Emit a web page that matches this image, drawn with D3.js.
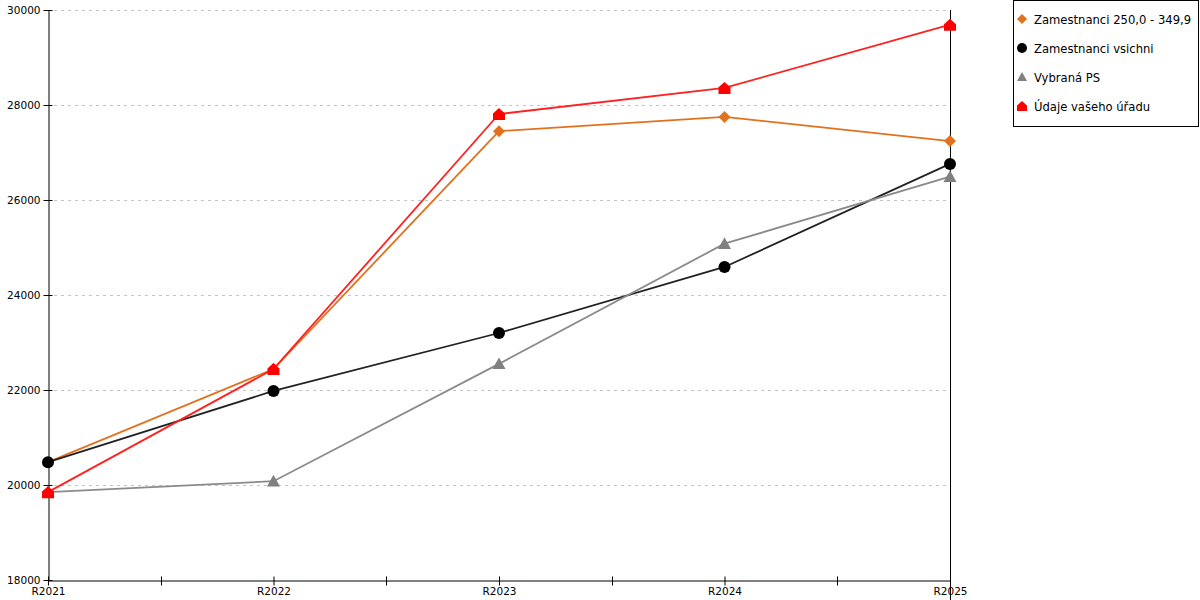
<!DOCTYPE html>
<html>
<head>
<meta charset="utf-8">
<script src="https://cdn.jsdelivr.net/npm/d3@7"></script>
<style>
  body { margin: 0; background: #fff; }
  text { font-family: "DejaVu Sans", sans-serif; }
</style>
</head>
<body>
<svg id="chart" width="1200" height="600"></svg>
<script>
var categories = ["R2021", "R2022", "R2023", "R2024", "R2025"]
var yTicks = [18000, 20000, 22000, 24000, 26000, 28000, 30000]

var orangeValues = [20480, 22440, 27450, 27750, 27240]
var blackValues = [20480, 21980, 23200, 24590, 26760]
var grayValues = [19850, 20080, 22550, 25080, 26490]
var redValues = [19850, 22440, 27810, 28360, 29690]

var seriesNames = ["Zamestnanci 250,0 - 349,9", "Zamestnanci vsichni", "Vybraná PS", "Údaje vašeho úřadu"]

var series = [
  { name: seriesNames[0], values: orangeValues, color: "#e2711d", marker: "diamond" },
  { name: seriesNames[1], values: blackValues, color: "#000000", line: "#222222", marker: "circle" },
  { name: seriesNames[2], values: grayValues, color: "#808080", line: "#8a8a8a", marker: "triangle" },
  { name: seriesNames[3], values: redValues, color: "#ff0000", line: "#ff2020", marker: "house" }
]

var svg = d3.select("#chart")
var plotLeft = 48, plotRight = 950, plotTop = 10, plotBottom = 580

var x = d3.scalePoint().domain(categories).range([plotLeft, plotRight])
var y = d3.scaleLinear().domain([18000, 30000]).range([plotBottom, plotTop])

// grid
svg.append("g").selectAll("line").data(yTicks.slice(1)).enter().append("line")
  .attr("x1", plotLeft + 6).attr("x2", plotRight - 2)
  .attr("y1", function(d) { return y(d) + 0.5 })
  .attr("y2", function(d) { return y(d) + 0.5 })
  .attr("stroke", "#c4c4c4")
  .attr("stroke-dasharray", "3,4")

// y axis
var yAxis = svg.append("g").attr("transform", "translate(" + (plotLeft + 0.5) + ",0)")
  .call(d3.axisLeft(y).tickValues(yTicks).tickSize(5).tickSizeOuter(0).tickFormat(d3.format("d")))
yAxis.selectAll(".tick line").attr("x1", -5).attr("x2", 4)
yAxis.selectAll(".tick text").attr("x", -8).attr("font-size", 10.5).attr("fill", "#000")
  .style("font-family", "DejaVu Sans")
yAxis.select(".domain").attr("stroke", "#000")

// x axis with midpoint ticks
var xAxis = svg.append("g").attr("transform", "translate(0," + (plotBottom + 0.5) + ")")
  .call(d3.axisBottom(x).tickSize(5).tickSizeOuter(0))
xAxis.selectAll(".tick line").attr("y1", -4).attr("y2", 5)
xAxis.selectAll(".tick text").attr("y", 7).attr("font-size", 10.5).attr("fill", "#000")
  .style("font-family", "DejaVu Sans")
xAxis.select(".domain").attr("stroke", "#000")
var mids = []
for (var i = 0; i < categories.length - 1; i++) {
  mids.push((x(categories[i]) + x(categories[i + 1])) / 2)
}
xAxis.selectAll(".mid").data(mids).enter().append("line")
  .attr("class", "mid")
  .attr("x1", function(d) { return Math.round(d) + 0.5 })
  .attr("x2", function(d) { return Math.round(d) + 0.5 })
  .attr("y1", -4).attr("y2", 5)
  .attr("stroke", "#000")

// right border line
svg.append("line")
  .attr("x1", plotRight + 0.5).attr("x2", plotRight + 0.5)
  .attr("y1", plotTop).attr("y2", plotBottom + 20)
  .attr("stroke", "#000")

function markerPath(type, s) {
  if (type == "diamond") {
    return "M0," + (-s) + "L" + s + ",0L0," + s + "L" + (-s) + ",0Z"
  } else if (type == "circle") {
    return d3.symbol().type(d3.symbolCircle).size(Math.PI * s * s)()
  } else if (type == "triangle") {
    return "M0," + (-s) + "L" + s + "," + (s * 0.8) + "L" + (-s) + "," + (s * 0.8) + "Z"
  } else {
    return "M0," + (-s) + "L" + s + "," + (-s * 0.1) + "L" + s + "," + s +
      "L" + (-s) + "," + s + "L" + (-s) + "," + (-s * 0.1) + "Z"
  }
}

var line = d3.line()
  .x(function(d, i) { return x(categories[i]) })
  .y(function(d) { return y(d) })

series.forEach(function(s) {
  svg.append("path")
    .datum(s.values)
    .attr("d", line)
    .attr("fill", "none")
    .attr("stroke", s.line || s.color)
    .attr("stroke-width", 1.8)
})

var sizes = { diamond: 6, circle: 6, triangle: 6.5, house: 6 }
series.forEach(function(s) {
  svg.append("g").selectAll("path").data(s.values).enter().append("path")
    .attr("d", markerPath(s.marker, sizes[s.marker]))
    .attr("transform", function(d, i) { return "translate(" + x(categories[i]) + "," + y(d) + ")" })
    .attr("fill", s.color)
})

// legend
var legend = svg.append("g")
legend.append("rect")
  .attr("x", 1013.5).attr("y", 0.5).attr("width", 185).attr("height", 126)
  .attr("fill", "#fff").attr("stroke", "#000")
var items = legend.selectAll(".item").data(series).enter().append("g")
  .attr("transform", function(d, i) { return "translate(1022," + (19 + i * 29) + ")" })
items.append("path")
  .attr("d", function(d) { return markerPath(d.marker, 5) })
  .attr("fill", function(d) { return d.color })
items.append("text")
  .attr("x", 12).attr("y", 5)
  .attr("font-size", 11.6)
  .attr("fill", "#000")
  .text(function(d) { return d.name })
</script>
</body>
</html>
